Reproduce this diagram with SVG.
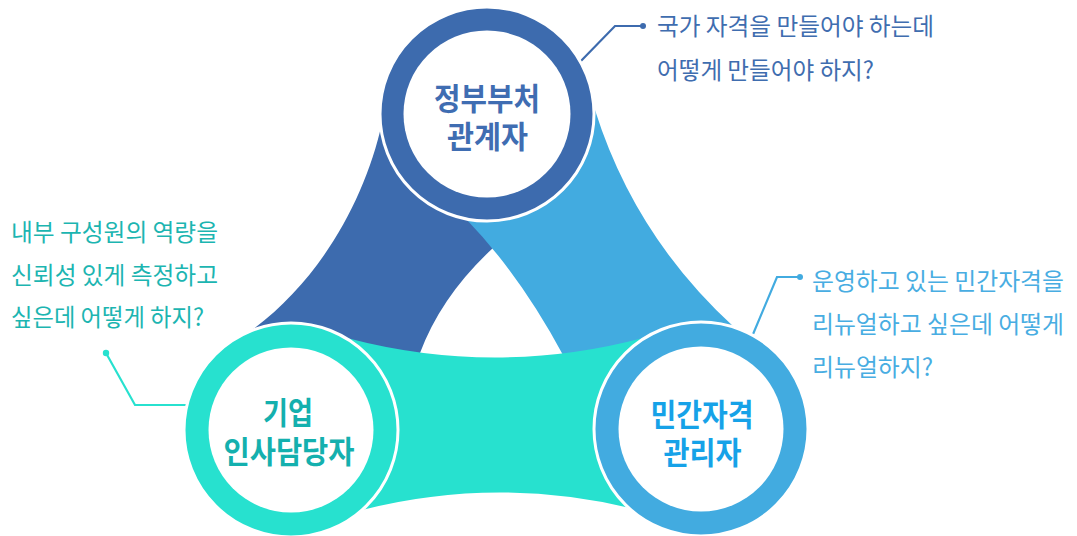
<svg xmlns="http://www.w3.org/2000/svg" width="1077" height="536" viewBox="0 0 1077 536">
  <style>
    .ring { stroke: #ffffff; stroke-width: 3; }
    .hole { fill: #ffffff; }
    .lbl { font-family: "Liberation Sans", "Noto Sans CJK KR", sans-serif; font-weight: 700; font-size: 31px; text-anchor: middle; }
    .q { font-family: "Noto Sans CJK KR", "Noto Sans", sans-serif; font-weight: 400; font-size: 24px; }
    .lead { fill: none; stroke-width: 2.2; stroke-linejoin: miter; }
  </style>
  <rect width="1077" height="536" fill="#ffffff"/>

  <g id="bands">
    <path d="M487,114 L382,123 C365,200 320,280 252,330 L291,430 L420,353 Q441.5,295.5 493,248 L500,200 Z" fill="#3D6BAE"/>
    <path d="M487,114 L595,110 Q635,237 735,328 L701,429 L563,355 Q520,275 467,220 Z" fill="#42ABE0"/>
    <path d="M291,430 L347,338 Q495,377 643,338 L701,429 L630,508 Q495,476 362,510 Z" fill="#27E1CF"/>
  </g>

  <g id="connectors">
    <polyline class="lead" points="578,64 615,26 643,26" stroke="#3D6BAE"/>
    <circle cx="643" cy="26" r="3" fill="#3D6BAE"/>
    <polyline class="lead" points="106,353 135,405 190,405" stroke="#27E1CF" stroke-width="2.6"/>
    <circle cx="106" cy="353" r="3.2" fill="#27E1CF"/>
    <polyline class="lead" points="751,339 777,277 800,277" stroke="#42ABE0"/>
    <circle cx="800" cy="277" r="3" fill="#42ABE0"/>
  </g>

  <g id="node-top">
    <circle class="ring" cx="487" cy="114" r="107" fill="#3D6BAE"/>
    <circle class="hole" cx="487" cy="114" r="83.5"/>
    <text class="lbl" x="487" y="110" fill="#3F6DB2" textLength="106" lengthAdjust="spacingAndGlyphs">정부부처</text>
    <text class="lbl" x="487.5" y="148" fill="#3F6DB2" textLength="81" lengthAdjust="spacingAndGlyphs">관계자</text>
  </g>

  <g id="node-left">
    <circle class="ring" cx="291" cy="430" r="107" fill="#27E1CF"/>
    <circle class="hole" cx="291" cy="430" r="82.5"/>
    <text class="lbl" x="288" y="424" fill="#14B0AE" textLength="50" lengthAdjust="spacingAndGlyphs">기업</text>
    <text class="lbl" x="289" y="463" fill="#14B0AE" textLength="131" lengthAdjust="spacingAndGlyphs">인사담당자</text>
  </g>

  <g id="node-right">
    <circle class="ring" cx="701" cy="429" r="107" fill="#42ABE0"/>
    <circle class="hole" cx="701" cy="429" r="82.5"/>
    <text class="lbl" x="702" y="426" fill="#16A2E8" textLength="103" lengthAdjust="spacingAndGlyphs">민간자격</text>
    <text class="lbl" x="702.5" y="464" fill="#16A2E8" textLength="78" lengthAdjust="spacingAndGlyphs">관리자</text>
  </g>

  <g id="note-top" fill="#3F6DAF">
    <text class="q" x="657" y="35" textLength="277" lengthAdjust="spacingAndGlyphs">국가 자격을 만들어야 하는데</text>
    <text class="q" x="657" y="79" textLength="217" lengthAdjust="spacingAndGlyphs">어떻게 만들어야 하지?</text>
  </g>

  <g id="note-left" fill="#1CB5B1">
    <text class="q" x="11" y="241" textLength="207" lengthAdjust="spacingAndGlyphs">내부 구성원의 역량을</text>
    <text class="q" x="11" y="284" textLength="207" lengthAdjust="spacingAndGlyphs">신뢰성 있게 측정하고</text>
    <text class="q" x="11" y="326" textLength="193" lengthAdjust="spacingAndGlyphs">싶은데 어떻게 하지?</text>
  </g>

  <g id="note-right" fill="#48ADE2">
    <text class="q" x="812" y="290" textLength="252" lengthAdjust="spacingAndGlyphs">운영하고 있는 민간자격을</text>
    <text class="q" x="812" y="333" textLength="252" lengthAdjust="spacingAndGlyphs">리뉴얼하고 싶은데 어떻게</text>
    <text class="q" x="812" y="376" textLength="121" lengthAdjust="spacingAndGlyphs">리뉴얼하지?</text>
  </g>
</svg>
